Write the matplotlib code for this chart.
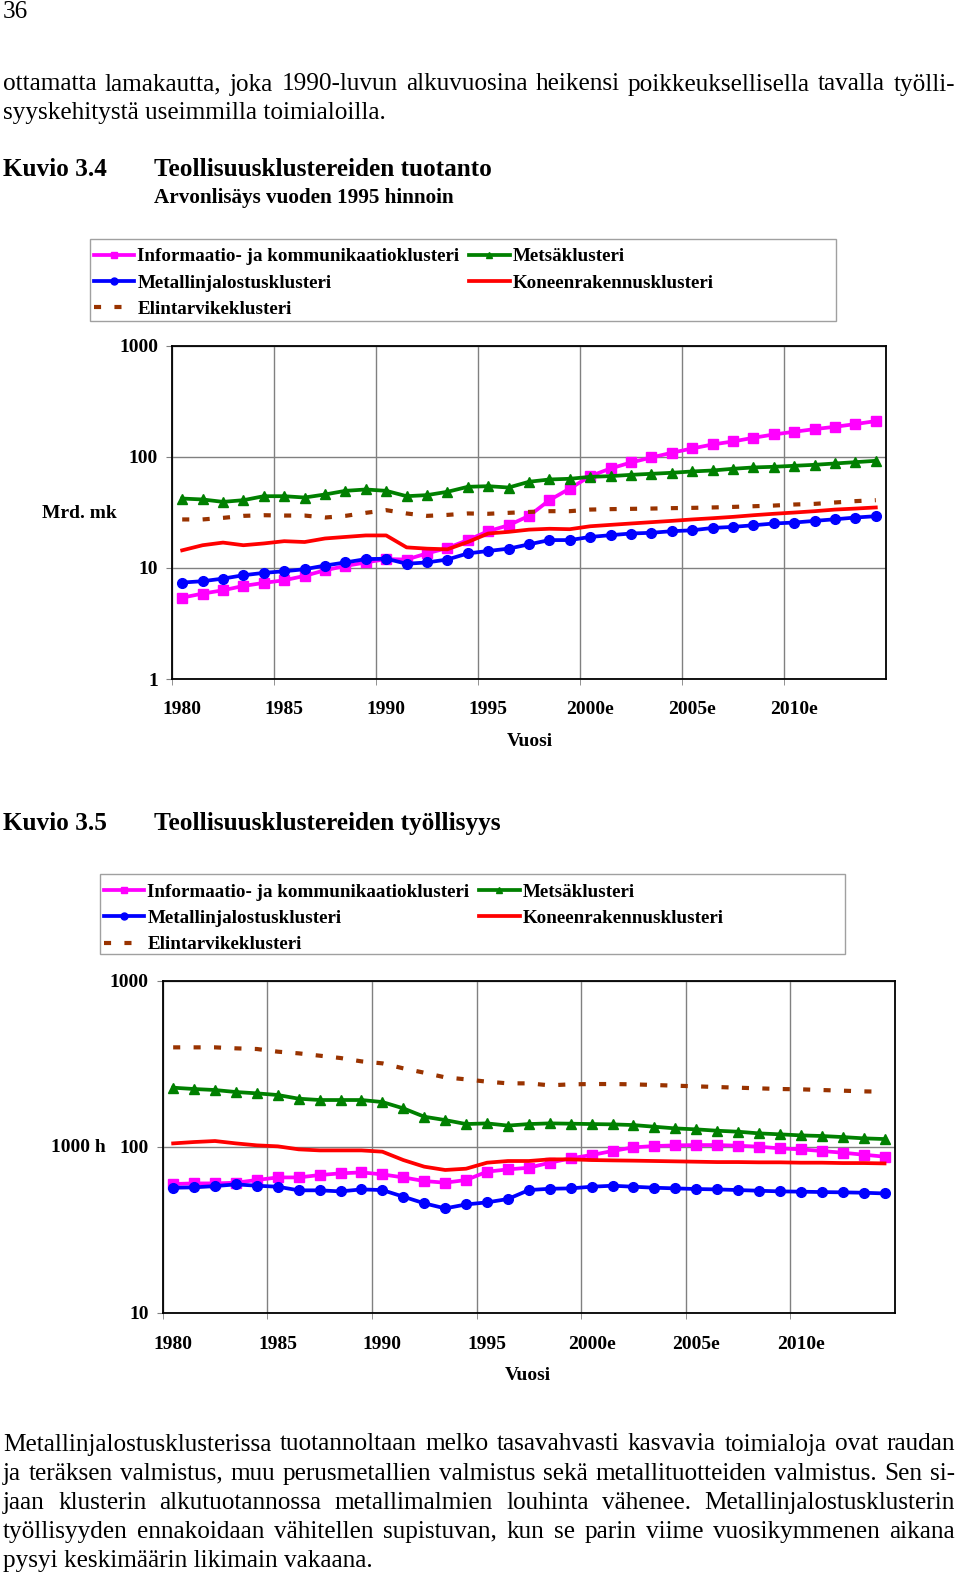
import matplotlib
matplotlib.use('Agg')
import matplotlib.pyplot as plt
from matplotlib.lines import Line2D
from matplotlib.patches import Rectangle

plt.rcParams['font.family'] = ['Liberation Serif', 'DejaVu Serif']

W, H = 960, 1576

years = list(range(1980, 2015))
tick_labels = ['1980', '1985', '1990', '1995', '2000e', '2005e', '2010e']

# Kuvio 3.4 - arvonlisays (Mrd. mk)
info_prod = [5.40, 5.87, 6.29, 6.88, 7.33, 7.74, 8.47, 9.53, 10.4, 11.2, 12.0, 11.9, 13.5, 15.1,
             17.8, 21.4, 24.2, 29.4, 40.7, 51.8, 67.0, 78.5, 88.9, 98.6, 108.7, 118.9, 129.1,
             137.4, 148.3, 158.9, 168.0, 177.5, 186.3, 197.0, 209.6]
forest_prod = [42.1, 41.3, 39.3, 40.7, 44.2, 44.2, 43.0, 45.8, 49.4, 50.8, 49.4, 44.2, 45.2, 48.4,
               53.7, 54.4, 52.9, 59.6, 62.5, 63.4, 66.0, 67.0, 68.8, 70.3, 71.8, 73.8, 75.3,
               78.0, 80.2, 81.3, 83.0, 84.7, 87.1, 89.5, 92.0]
metal_prod = [7.38, 7.59, 8.01, 8.59, 9.02, 9.33, 9.73, 10.5, 11.2, 12.0, 12.1, 10.9, 11.2, 11.9,
              13.5, 14.2, 14.9, 16.3, 17.8, 17.8, 19.0, 19.7, 20.4, 20.7, 21.4, 21.8, 22.9,
              23.4, 24.2, 25.1, 25.6, 26.5, 27.4, 28.4, 29.2]
machine_prod = [14.4, 16.0, 16.9, 16.0, 16.6, 17.4, 17.1, 18.4, 19.0, 19.6, 19.6, 15.3, 14.9, 14.7,
                17.1, 20.4, 21.1, 22.1, 22.5, 22.3, 23.7, 24.4, 25.1, 25.8, 26.5, 27.3, 28.0,
                28.8, 29.8, 30.7, 31.5, 32.4, 33.5, 34.2, 35.0]
food_prod = [27.3, 27.3, 28.2, 29.4, 29.8, 29.6, 29.6, 28.4, 29.4, 31.3, 33.1, 30.9, 29.4, 30.0,
             30.9, 30.7, 31.3, 31.9, 32.4, 32.4, 33.5, 33.8, 34.0, 34.2, 34.5, 34.7, 35.0,
             35.4, 35.9, 36.4, 37.2, 37.7, 38.8, 39.9, 40.7]

# Kuvio 3.5 - tyollisyys (1000 h)
info_emp = [59.6, 60.1, 60.1, 60.7, 63.0, 65.3, 65.3, 67.5, 69.1, 70.0, 68.1, 65.3, 62.1, 60.7,
            63.0, 70.7, 73.0, 74.7, 80.1, 85.1, 89.1, 94.2, 99.1, 100.9, 101.9, 102.3, 102.3,
            101.4, 100.0, 97.7, 96.4, 94.2, 92.0, 89.5, 87.1]
forest_emp = [226.7, 222.6, 219.5, 213.5, 209.6, 204.8, 194.6, 191.1, 191.1, 191.1, 185.8, 170.2,
              151.6, 144.7, 136.9, 138.2, 134.0, 136.9, 138.2, 137.6, 136.9, 136.3, 135.0, 131.9,
              128.9, 127.2, 124.8, 123.1, 120.3, 118.7, 117.0, 116.0, 114.3, 112.3, 111.2]
metal_emp = [56.6, 56.9, 57.9, 59.3, 58.2, 57.4, 54.6, 54.6, 53.8, 55.3, 54.8, 50.0, 45.6, 42.5,
             44.9, 46.2, 48.4, 54.8, 55.8, 56.1, 57.4, 58.2, 57.4, 56.6, 56.1, 55.6, 55.3, 54.8,
             54.3, 53.8, 53.6, 53.3, 53.1, 52.8, 52.3]
machine_emp = [104.7, 106.7, 108.2, 104.7, 101.9, 100.5, 96.4, 95.0, 95.0, 95.0, 93.3, 83.1, 75.8,
               72.4, 73.7, 80.1, 82.0, 82.0, 83.9, 83.9, 83.1, 82.7, 82.4, 82.0, 81.6, 81.2, 80.8,
               80.8, 80.5, 80.5, 80.1, 80.1, 79.7, 79.7, 79.3]
food_emp = [396.7, 396.7, 396.7, 391.3, 387.7, 373.6, 365.0, 353.4, 342.1, 326.6, 317.7, 296.4,
            279.1, 261.6, 254.5, 246.4, 240.8, 240.8, 234.2, 237.5, 238.5, 238.5, 237.5, 235.3,
            233.1, 231.0, 228.8, 226.7, 224.6, 222.6, 221.6, 219.5, 217.5, 215.4, 214.5]

names = ['Informaatio- ja kommunikaatioklusteri', 'Metsäklusteri', 'Metallinjalostusklusteri',
         'Koneenrakennusklusteri', 'Elintarvikeklusteri']

PINK, GREEN, BLUE, RED, BROWN = '#FF00FF', '#008000', '#0000FF', '#FF0000', '#993300'

BODY = 18.2    # running text
LABEL = 14     # chart labels
LEG = 13.7     # legend text

fig = plt.figure(figsize=(W / 100, H / 100), dpi=100)


def fx(x):
    return x / W


def fy(y):
    return 1 - y / H


def put(x, y, s, size, bold=False, ha='left'):
    return fig.text(fx(x), fy(y), s, fontsize=size, ha=ha, va='baseline',
                    fontweight='bold' if bold else 'normal')


def justified(line, y, x0=3, x1=955, size=BODY):
    words = line.split()
    texts = [put(0, y, w, size) for w in words]
    renderer = fig.canvas.get_renderer()
    widths = [t.get_window_extent(renderer).width for t in texts]
    gap = (x1 - x0 - sum(widths)) / (len(words) - 1)
    x = x0
    for t, w in zip(texts, widths):
        t.set_x(fx(x))
        x += w + gap


def chart(rect, series, ymin, ylabel_pad, xlabel_pad):
    left, top, right, bottom = rect
    ax = fig.add_axes([fx(left), fy(bottom), fx(right - left), (bottom - top) / H])
    x = list(range(len(years)))
    info, forest, metal, machine, food = series
    ax.plot(x, info, color=PINK, lw=2.7, marker='s', ms=6.5, zorder=3)
    ax.plot(x, forest, color=GREEN, lw=2.7, marker='^', ms=7, zorder=4)
    ax.plot(x, metal, color=BLUE, lw=2.7, marker='o', ms=7, zorder=5)
    ax.plot(x, machine, color=RED, lw=2.7, zorder=6)
    ax.plot(x, food, color=BROWN, lw=3, ls=(0, (1.7, 3.2)), zorder=7)

    ax.set_yscale('log')
    ax.set_ylim(ymin, 1000)
    ax.set_xlim(-0.5, len(years) - 0.5)
    decades = [10 ** k for k in range(len(str(ymin)) - 1, 4)]
    ax.set_yticks(decades)
    ax.set_yticklabels([str(d) for d in decades])
    ax.yaxis.set_minor_locator(plt.NullLocator())
    ax.set_xticks(range(0, 31, 5))
    ax.set_xticklabels(tick_labels)
    ax.set_xticks([i - 0.5 for i in range(0, 31, 5)], minor=True)
    ax.grid(axis='y', which='major', color='#808080', lw=1)
    ax.grid(axis='x', which='minor', color='#808080', lw=1)
    ax.tick_params(axis='x', which='major', length=0, pad=xlabel_pad, labelsize=LABEL)
    ax.tick_params(axis='x', which='minor', length=4, color='#808080')
    ax.tick_params(axis='y', length=4, color='#808080', pad=ylabel_pad, labelsize=LABEL)
    for lab in ax.get_xticklabels() + ax.get_yticklabels():
        lab.set_fontweight('bold')
    for sp in ax.spines.values():
        sp.set_linewidth(1.3)
        sp.set_color('black')
    return ax


def legend_box(x0, y0, x1, y1, ax):
    fig.patches.append(Rectangle((fx(x0), fy(y1)), fx(x1 - x0), (y1 - y0) / H,
                                 transform=fig.transFigure, fill=False,
                                 edgecolor='#a0a0a0', lw=1))
    handles = [
        Line2D([], [], color=PINK, lw=2.7, marker='s', ms=5),
        Line2D([], [], color=BLUE, lw=2.7, marker='o', ms=5),
        Line2D([], [], color=BROWN, lw=3, ls=(0, (1.7, 3.2))),
        Line2D([], [], color=GREEN, lw=2.7, marker='^', ms=5),
        Line2D([], [], color=RED, lw=2.7),
    ]
    labels = [names[0], names[2], names[4], names[1], names[3]]
    leg = ax.legend(handles, labels, ncol=2, frameon=False, loc='upper left',
                    bbox_to_anchor=(fx(x0 + 4), fy(y0 + 9)), bbox_transform=fig.transFigure,
                    borderpad=0, borderaxespad=0, handlelength=2.15, handletextpad=0.15,
                    columnspacing=0.5, labelspacing=0.47,
                    prop={'size': LEG, 'weight': 'bold'})
    return leg


# page text
put(3, 18, '36', BODY)
justified('ottamatta lamakautta, joka 1990-luvun alkuvuosina heikensi poikkeuksellisella tavalla työlli-', 90.5)
put(3, 118.5, 'syyskehitystä useimmilla toimialoilla.', BODY)

put(3, 176, 'Kuvio 3.4', BODY, bold=True)
put(154, 176, 'Teollisuusklustereiden tuotanto', BODY, bold=True)
put(154, 202.5, 'Arvonlisäys vuoden 1995 hinnoin', 15.2, bold=True)

ax1 = chart((172, 345.7, 886, 679), (info_prod, forest_prod, metal_prod, machine_prod, food_prod),
            1, 6, 15.5)
legend_box(89.5, 239, 836, 321, ax1)
put(42, 518, 'Mrd. mk', LABEL, bold=True)
put(530, 746, 'Vuosi', LABEL, bold=True, ha='center')

put(3, 830, 'Kuvio 3.5', BODY, bold=True)
put(154, 830, 'Teollisuusklustereiden työllisyys', BODY, bold=True)

ax2 = chart((162.7, 980.7, 895, 1312.7), (info_emp, forest_emp, metal_emp, machine_emp, food_emp),
            10, 6, 16.5)
legend_box(99.5, 874.5, 845, 954, ax2)
put(51, 1152.5, '1000 h', LABEL, bold=True)
put(528, 1380, 'Vuosi', LABEL, bold=True, ha='center')

justified('Metallinjalostusklusterissa tuotannoltaan melko tasavahvasti kasvavia toimialoja ovat raudan', 1450.5)
justified('ja teräksen valmistus, muu perusmetallien valmistus sekä metallituotteiden valmistus. Sen si-', 1479.6)
justified('jaan klusterin alkutuotannossa metallimalmien louhinta vähenee. Metallinjalostusklusterin', 1508.8)
justified('työllisyyden ennakoidaan vähitellen supistuvan, kun se parin viime vuosikymmenen aikana', 1538)
put(3, 1567, 'pysyi keskimäärin likimain vakaana.', BODY)

fig.savefig('out.png', dpi=100)
